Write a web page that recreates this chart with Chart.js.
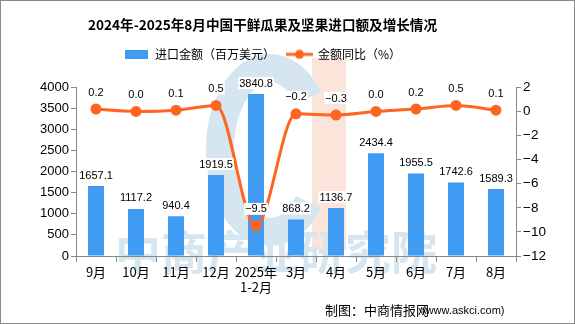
<!DOCTYPE html>
<html><head><meta charset="utf-8">
<script src="https://cdn.jsdelivr.net/npm/chart.js@4"></script>
<style>html,body{margin:0;padding:0;background:#fff;}#wrap{width:575px;height:324px;position:relative;}</style>
</head><body><div id="wrap"><canvas id="c" width="575" height="324"></canvas></div>
<script>
const categories = ['9月','10月','11月','12月',['2025年','1-2月'],'3月','4月','5月','6月','7月','8月'];
const importValues = [1657.1,1117.2,940.4,1919.5,3840.8,868.2,1136.7,2434.4,1955.5,1742.6,1589.3];
const yoyValues = [0.2,0.0,0.1,0.5,-9.5,-0.2,-0.3,0.0,0.2,0.5,0.1];
const leftTicks = [0,500,1000,1500,2000,2500,3000,3500,4000];
const rightTicks = [-12,-10,-8,-6,-4,-2,0,2];

const CJK = '"Noto Sans CJK SC", "Noto Sans", sans-serif';
const BLUE = '#3f9cf2', ORANGE = '#ff6420';

function makeIcon(w,h,draw){ const c=document.createElement('canvas'); c.width=w; c.height=h; draw(c.getContext('2d')); return c; }
const barIcon = makeIcon(23,9,(g)=>{ g.fillStyle=BLUE; g.fillRect(0,0,23,9); });
const lineIcon = makeIcon(27,10,(g)=>{ g.strokeStyle=ORANGE; g.lineWidth=3; g.beginPath(); g.moveTo(0,5); g.lineTo(27,5); g.stroke();
  g.fillStyle=ORANGE; g.beginPath(); g.arc(13.5,5,4.5,0,Math.PI*2); g.fill(); });

const bgPlugin = {
  id:'bg',
  afterLayout(chart){
    const s = chart.scales.y2;
    s.right = s.left + 59; s.width = 59;
  },
  beforeDraw(chart){
    const ctx = chart.ctx;
    ctx.save();
    ctx.fillStyle='#fff'; ctx.fillRect(0,0,575,324);
    ctx.fillStyle = '#fbe4da';
    ctx.fillRect(312,58,34,192);
    ctx.strokeStyle = '#d5e6f1';
    ctx.lineWidth = 28;
    ctx.beginPath();
    ctx.ellipse(270,150,50,82,0,Math.PI*0.22,Math.PI*1.78,false);
    ctx.stroke();
    ctx.fillStyle = '#d5e6f1';
    ctx.font = 'bold 46px ' + CJK;
    ctx.textBaseline='middle';
    ctx.textAlign='left';
    ctx.fillText('中商产业研究院',115,252);
    ctx.restore();
  },
  afterDraw(chart){
    const ctx = chart.ctx;
    ctx.save();
    ctx.strokeStyle='#8a8a8a'; ctx.lineWidth=1;
    ctx.strokeRect(0.5,0.5,574,323);
    ctx.fillStyle='#000';
    ctx.font='13px ' + CJK;
    ctx.textAlign='left'; ctx.textBaseline='middle';
    ctx.fillText('制图：中商情报网',325,310);
    ctx.font='11px "Liberation Sans", sans-serif';
    ctx.fillText('(www.askci.com)',422,311);
    ctx.restore();
  }
};

const labelPlugin = {
  id:'vlabels',
  afterDatasetsDraw(chart){
    const ctx = chart.ctx;
    ctx.save();
    ctx.font = '11px "Liberation Sans", sans-serif';
    ctx.textAlign='center'; ctx.textBaseline='bottom';
    const draw = (txt,x,y)=>{
      const w = ctx.measureText(txt).width;
      ctx.fillStyle='#fff';
      ctx.fillRect(x-w/2-1,y-12,w+2,12);
      ctx.fillStyle='#000';
      ctx.fillText(txt,x,y);
    };
    chart.getDatasetMeta(1).data.forEach((el,i)=>{
      draw(importValues[i].toFixed(1), el.x, el.y-5);
    });
    chart.getDatasetMeta(0).data.forEach((el,i)=>{
      draw(yoyValues[i].toFixed(1).replace('-','−'), el.x, el.y-11);
    });
    ctx.restore();
  }
};

new Chart(document.getElementById('c'),{
  data:{
    labels: categories,
    datasets:[
      {type:'line', label:'金额同比（%）', data:yoyValues, yAxisID:'y2', borderColor:ORANGE, backgroundColor:ORANGE,
       borderWidth:3, pointRadius:4, pointHoverRadius:4, tension:0.4, cubicInterpolationMode:'monotone', order:0},
      {type:'bar', label:'进口金额（百万美元）', data:importValues, yAxisID:'y', backgroundColor:BLUE,
       barPercentage:0.4, categoryPercentage:1.0, order:1}
    ]
  },
  options:{
    responsive:false, animation:false,
    layout:{padding:{left:0,right:50,top:0,bottom:0}},
    plugins:{
      title:{display:true, text:'2024年-2025年8月中国干鲜瓜果及坚果进口额及增长情况', color:'#000',
        font:{family:CJK, size:13.6, weight:'bold'}, padding:{top:17,bottom:3}},
      legend:{display:true, labels:{color:'#000', font:{family:CJK,size:12}, usePointStyle:true, pointStyleWidth:25, padding:12,
        generateLabels(chart){
          return [
            {text:'进口金额（百万美元）', pointStyle:barIcon, fillStyle:BLUE, strokeStyle:BLUE, lineWidth:0, datasetIndex:1},
            {text:'金额同比（%）', pointStyle:lineIcon, fillStyle:ORANGE, strokeStyle:ORANGE, lineWidth:0, datasetIndex:0}
          ];
        }}},
      tooltip:{enabled:false}
    },
    scales:{
      x:{offset:true, grid:{display:true, offset:true, drawOnChartArea:false, drawTicks:true, tickLength:6, color:'#888'},
        border:{color:'#888'}, ticks:{color:'#000', font:{family:CJK,size:13}, padding:2, maxRotation:0, autoSkip:false},
        afterFit(s){ s.height = 324-254-2; }},
      xTop:{type:'category', position:'top', display:true, grid:{display:false}, border:{display:false},
        ticks:{display:false}, afterFit(s){ s.height = 17; }},
      y:{position:'left', min:0, max:4000, afterBuildTicks(s){ s.ticks = leftTicks.map(v=>({value:v})); },
        grid:{drawOnChartArea:false, tickLength:5, color:'#888'}, border:{color:'#888'},
        ticks:{color:'#000', font:{family:'"Liberation Sans", sans-serif',size:13}, padding:2, callback:(v)=>String(v)},
        afterFit(s){ s.width = 76; }},
      y2:{position:'right', min:-12, max:2, afterBuildTicks(s){ s.ticks = rightTicks.map(v=>({value:v})); },
        grid:{drawOnChartArea:false, tickLength:5, color:'#888'}, border:{color:'#888'},
        ticks:{color:'#000', font:{family:'"Liberation Sans", sans-serif',size:13.5}, padding:2,
          callback:(v)=> String(v).replace('-','−')},
        afterFit(s){ s.width = 9; }}
    }
  },
  plugins:[bgPlugin,labelPlugin]
});
</script></body></html>
